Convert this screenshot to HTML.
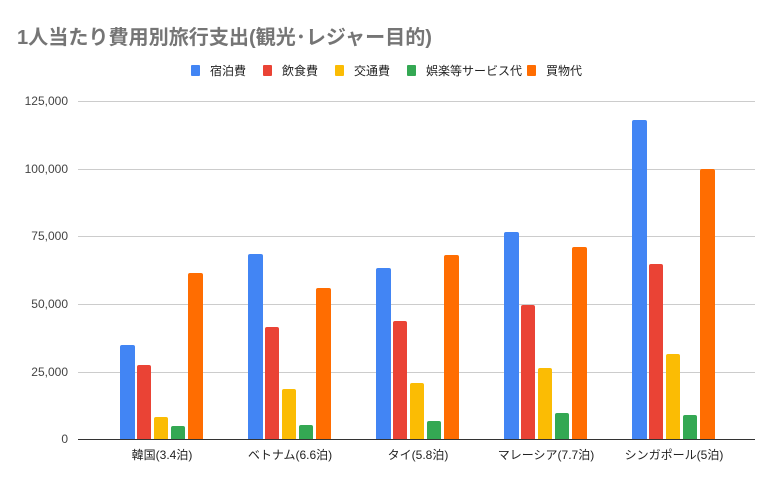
<!DOCTYPE html><html><head><meta charset="utf-8"><style>body{margin:0;background:#fff}svg{font-family:"Liberation Sans","Noto Sans CJK JP",sans-serif}</style></head><body>
<svg width="781" height="484" xmlns="http://www.w3.org/2000/svg">
<rect width="781" height="484" fill="#fff"/>
<text x="17" y="44" font-size="20" font-weight="bold" fill="#757575" textLength="415" lengthAdjust="spacingAndGlyphs">1人当たり費用別旅行支出(観光･レジャー目的)</text>
<g font-size="12" fill="#222">
<rect x="191" y="65" width="9" height="11" rx="1" fill="#4285f4"/><text x="210" y="75">宿泊費</text>
<rect x="263" y="65" width="9" height="11" rx="1" fill="#ea4335"/><text x="282" y="75">飲食費</text>
<rect x="335" y="65" width="9" height="11" rx="1" fill="#fbbc04"/><text x="354" y="75">交通費</text>
<rect x="407" y="65" width="9" height="11" rx="1" fill="#34a853"/><text x="426" y="75">娯楽等サービス代</text>
<rect x="527" y="65" width="9" height="11" rx="1" fill="#ff6d01"/><text x="546" y="75">買物代</text>
</g>
<g stroke="#ccc" stroke-width="1">
<line x1="78" x2="755" y1="101.5" y2="101.5"/><line x1="78" x2="755" y1="169.5" y2="169.5"/><line x1="78" x2="755" y1="236.5" y2="236.5"/><line x1="78" x2="755" y1="304.5" y2="304.5"/><line x1="78" x2="755" y1="372.5" y2="372.5"/>
</g>
<g font-size="12" fill="#444" text-anchor="end">
<text x="68" y="105">125,000</text><text x="68" y="173">100,000</text><text x="68" y="240">75,000</text><text x="68" y="308">50,000</text><text x="68" y="376">25,000</text><text x="68" y="443">0</text>
</g>
<line x1="78" x2="755" y1="439.5" y2="439.5" stroke="#333"/>
<g font-size="12" fill="#222" text-anchor="middle">
<text x="162" y="459">韓国(3.4泊)</text><text x="290" y="459">ベトナム(6.6泊)</text><text x="418" y="459">タイ(5.8泊)</text><text x="546" y="459">マレーシア(7.7泊)</text><text x="674" y="459">シンガポール(5泊)</text>
</g>
<g>
<path d="M120 439V347a2 2 0 0 1 2-2h11a2 2 0 0 1 2 2V439Z" fill="#4285f4"/>
<path d="M137 439V367a2 2 0 0 1 2-2h10a2 2 0 0 1 2 2V439Z" fill="#ea4335"/>
<path d="M154 439V419a2 2 0 0 1 2-2h10a2 2 0 0 1 2 2V439Z" fill="#fbbc04"/>
<path d="M171 439V428a2 2 0 0 1 2-2h10a2 2 0 0 1 2 2V439Z" fill="#34a853"/>
<path d="M188 439V275a2 2 0 0 1 2-2h11a2 2 0 0 1 2 2V439Z" fill="#ff6d01"/>

<path d="M248 439V256a2 2 0 0 1 2-2h11a2 2 0 0 1 2 2V439Z" fill="#4285f4"/>
<path d="M265 439V329a2 2 0 0 1 2-2h10a2 2 0 0 1 2 2V439Z" fill="#ea4335"/>
<path d="M282 439V391a2 2 0 0 1 2-2h10a2 2 0 0 1 2 2V439Z" fill="#fbbc04"/>
<path d="M299 439V427a2 2 0 0 1 2-2h10a2 2 0 0 1 2 2V439Z" fill="#34a853"/>
<path d="M316 439V290a2 2 0 0 1 2-2h11a2 2 0 0 1 2 2V439Z" fill="#ff6d01"/>

<path d="M376 439V270a2 2 0 0 1 2-2h11a2 2 0 0 1 2 2V439Z" fill="#4285f4"/>
<path d="M393 439V323a2 2 0 0 1 2-2h10a2 2 0 0 1 2 2V439Z" fill="#ea4335"/>
<path d="M410 439V385a2 2 0 0 1 2-2h10a2 2 0 0 1 2 2V439Z" fill="#fbbc04"/>
<path d="M427 439V423a2 2 0 0 1 2-2h10a2 2 0 0 1 2 2V439Z" fill="#34a853"/>
<path d="M444 439V257a2 2 0 0 1 2-2h11a2 2 0 0 1 2 2V439Z" fill="#ff6d01"/>

<path d="M504 439V234a2 2 0 0 1 2-2h11a2 2 0 0 1 2 2V439Z" fill="#4285f4"/>
<path d="M521 439V307a2 2 0 0 1 2-2h10a2 2 0 0 1 2 2V439Z" fill="#ea4335"/>
<path d="M538 439V370a2 2 0 0 1 2-2h10a2 2 0 0 1 2 2V439Z" fill="#fbbc04"/>
<path d="M555 439V415a2 2 0 0 1 2-2h10a2 2 0 0 1 2 2V439Z" fill="#34a853"/>
<path d="M572 439V249a2 2 0 0 1 2-2h11a2 2 0 0 1 2 2V439Z" fill="#ff6d01"/>

<path d="M632 439V122a2 2 0 0 1 2-2h11a2 2 0 0 1 2 2V439Z" fill="#4285f4"/>
<path d="M649 439V266a2 2 0 0 1 2-2h10a2 2 0 0 1 2 2V439Z" fill="#ea4335"/>
<path d="M666 439V356a2 2 0 0 1 2-2h10a2 2 0 0 1 2 2V439Z" fill="#fbbc04"/>
<path d="M683 439V417a2 2 0 0 1 2-2h10a2 2 0 0 1 2 2V439Z" fill="#34a853"/>
<path d="M700 439V171a2 2 0 0 1 2-2h11a2 2 0 0 1 2 2V439Z" fill="#ff6d01"/>
</g>
</svg></body></html>
